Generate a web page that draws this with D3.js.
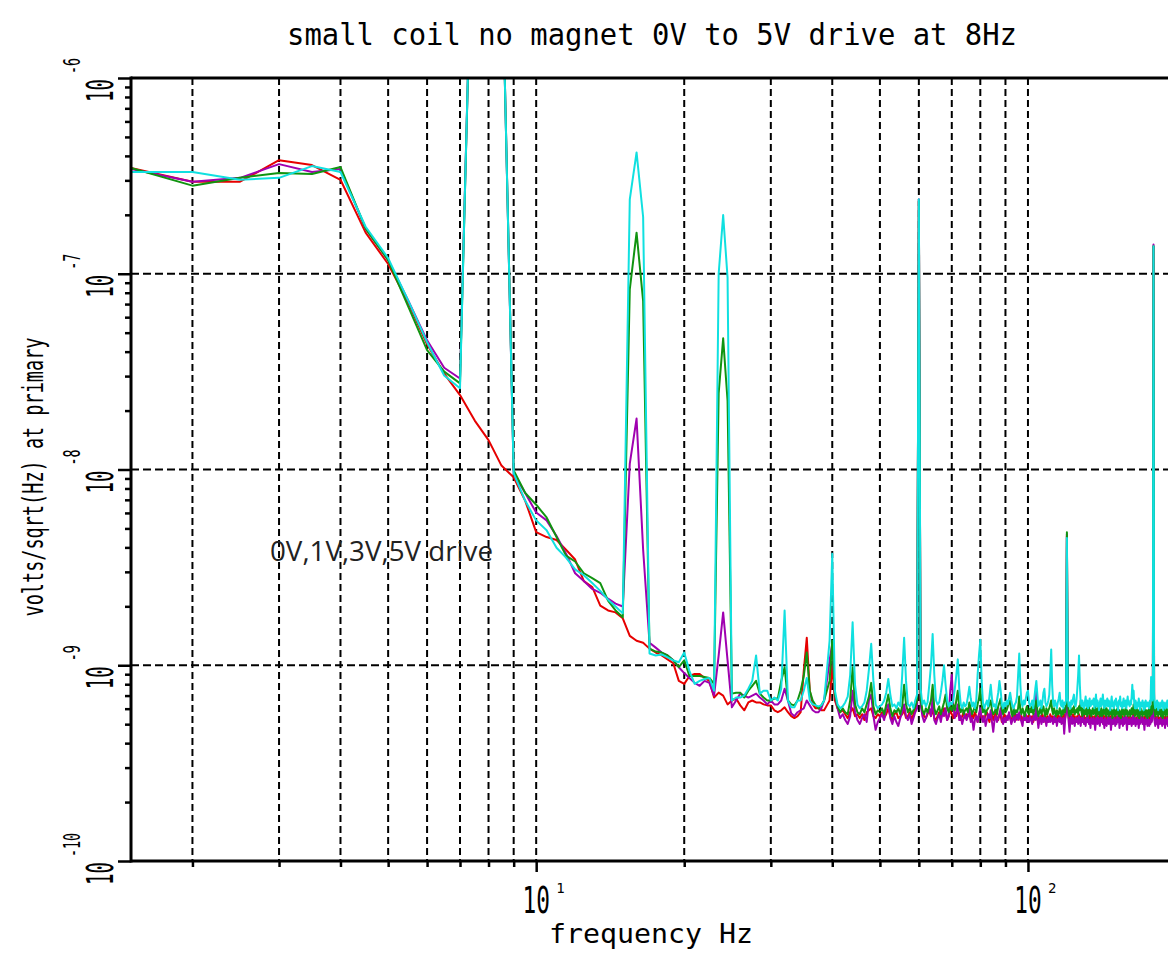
<!DOCTYPE html>
<html>
<head>
<meta charset="utf-8">
<script src="https://cdn.jsdelivr.net/npm/d3@7"></script>
<style>
  body { margin: 0; background: #fff; }
  svg { display: block; }
</style>
</head>
<body>
<div id="plot-container"></div>
<script>
const w = 1168;
const h = 956;

// frequency bins: 1.5 Hz .. 195 Hz, 0.5 Hz apart
const fStart = 1.5;
const fStep = 0.5;

// log10(volts/sqrt(Hz)), one value per bin
const drive0V = [
  -6.46, -6.53, -6.53, -6.42, -6.445, -6.52, -6.79, -6.95, -7.15, -7.36, -7.51, -7.62, -7.75, -7.85, -7.98, -8.04,
  -8.16, -8.32, -8.345, -8.36, -8.41, -8.46, -8.57, -8.60, -8.695, -8.72, -8.73, -8.76,
  -8.85, -8.875, -8.885, -8.915, -8.935, -8.95, -8.97, -8.99, -9.08, -9.095,
  -9.055, -9.045, -9.045, -9.065, -9.08, -9.165, -9.14, -9.155, -9.20, -9.18,
  -9.17, -9.205, -9.23, -9.19, -9.18, -9.19, -9.19, -9.20, -9.205, -9.205,
  -9.23, -9.24, -9.23, -9.215, -9.24, -9.26, -9.27, -9.26, -9.24, -9.03,
  -8.86, -9.13, -9.20, -9.22, -9.22, -9.23, -9.23, -9.205, -9.18, -9.00,
  -9.18, -9.22, -9.24, -9.23, -9.25, -9.27, -9.24, -9.22, -9.26, -9.25,
  -9.27, -9.25, -9.28, -9.24, -9.23, -9.22, -9.26, -9.27, -9.25, -9.26,
  -9.24, -9.27, -9.25, -9.22, -9.26, -9.28, -9.25, -9.24, -9.27, -9.26,
  -9.25, -9.23, -9.27, -9.26, -9.24, -9.28, -9.25, -9.22, -9.20, -6.63,
  -9.18, -9.24, -9.26, -9.27, -9.25, -9.23, -9.26, -9.22, -9.27, -9.28,
  -9.26, -9.24, -9.27, -9.25, -9.22, -9.24, -9.28, -9.26, -9.23, -9.25,
  -9.27, -9.24, -9.26, -9.23, -9.25, -9.28, -9.26, -9.24, -9.27, -9.25,
  -9.26, -9.24, -9.28, -9.25, -9.27, -9.24, -9.26, -9.29, -9.25, -9.24,
  -9.27, -9.26, -9.28, -9.25, -9.24, -9.27, -9.29, -9.26, -9.25, -9.28,
  -9.26, -9.24, -9.27, -9.28, -9.25, -9.26, -9.29, -9.27, -9.25, -9.26,
  -9.28, -9.26, -9.25, -9.27, -9.29, -9.26, -9.27, -9.24, -9.28, -9.26,
  -9.27, -9.25, -9.28, -9.26, -9.29, -9.27, -9.25, -9.28, -9.26, -9.27,
  -9.25, -9.28, -9.27, -9.26, -9.29, -9.27, -9.25, -9.26, -9.28, -9.27,
  -9.29, -9.26, -9.27, -9.25, -9.28, -9.26, -9.29, -9.27, -9.26, -9.28,
  -9.27, -9.25, -9.28, -9.26, -9.27, -9.29, -9.26, -9.28, -9.27, -9.25,
  -9.28, -9.26, -9.27, -9.29, -9.26, -9.28, -9.25, -9.27, -9.24, -8.34,
  -9.22, -9.27, -9.29, -9.26, -9.28, -9.27, -9.25, -9.28, -9.26, -9.29,
  -9.27, -9.26, -9.28, -9.25, -9.27, -9.29, -9.26, -9.28, -9.27, -9.25,
  -9.28, -9.27, -9.29, -9.26, -9.27, -9.28, -9.25, -9.27, -9.29, -9.26,
  -9.27, -9.28, -9.26, -9.29, -9.27, -9.25, -9.28, -9.26, -9.27, -9.29,
  -9.26, -9.28, -9.27, -9.25, -9.28, -9.26, -9.29, -9.27, -9.26, -9.28,
  -9.27, -9.29, -9.26, -9.28, -9.27, -9.25, -9.28, -9.27, -9.29, -9.26,
  -9.28, -9.26, -9.27, -9.29, -9.26, -9.28, -9.27, -9.25, -9.28, -9.27,
  -9.26, -9.28, -9.29, -9.27, -9.26, -9.28, -9.27, -9.29, -9.26, -9.27,
  -9.28, -9.27, -9.26, -9.29, -9.27, -9.28, -9.26, -9.25, -9.28, -9.27,
  -9.29, -9.27, -9.28, -9.26, -9.27, -9.29, -9.28, -9.26, -9.27, -9.28,
  -9.27, -9.26, -9.28, -9.29, -9.27, -9.26, -9.28, -9.27, -9.29, -9.26,
  -9.28, -9.27, -9.26, -9.28, -9.27, -9.25, -9.28, -9.26, -9.13, -6.86,
  -9.20, -9.27, -9.28, -9.26, -9.29, -9.27, -9.28, -9.26, -9.27, -9.29,
  -9.27, -9.28, -9.26, -9.29, -9.27, -9.28, -9.26, -9.27, -9.29, -9.28,
  -9.26, -9.28, -9.27, -9.29, -9.26, -9.28, -9.27, -9.29, -9.26, -9.28
];

const drive1V = [
  -6.465, -6.53, -6.51, -6.44, -6.48, -6.465, -6.77, -6.93, -7.14, -7.34, -7.48, -7.535, -4.65, -4.2, -5.25, -8.02,
  -8.12, -8.22, -8.26, -8.34, -8.43, -8.53, -8.57, -8.61, -8.63, -8.66, -8.685, -8.70,
  -7.97, -7.74, -8.41, -8.885, -8.91, -8.935, -8.95, -8.975, -9.01, -9.04,
  -9.065, -9.09, -9.105, -9.08, -9.09, -9.155, -8.95, -8.73, -8.975, -9.215,
  -9.18, -9.145, -9.155, -9.165, -9.155, -9.145, -9.165, -9.18, -9.20, -9.18,
  -9.20, -9.20, -9.18, -9.12, -9.18, -9.245, -9.26, -9.24, -9.23, -9.22,
  -9.18, -9.205, -9.23, -9.24, -9.24, -9.22, -9.18, -9.08, -8.975, -8.89,
  -9.15, -9.22, -9.27, -9.25, -9.28, -9.30, -9.26, -9.13, -9.24, -9.28,
  -9.30, -9.27, -9.25, -9.29, -9.18, -9.15, -9.26, -9.33, -9.29, -9.27,
  -9.25, -9.28, -9.22, -9.20, -9.27, -9.30, -9.26, -9.29, -9.31, -9.27,
  -9.24, -9.20, -9.26, -9.28, -9.25, -9.30, -9.27, -9.24, -9.22, -6.62,
  -9.20, -9.26, -9.29, -9.27, -9.24, -9.22, -9.26, -9.16, -9.28, -9.30,
  -9.27, -9.25, -9.29, -9.24, -9.26, -9.22, -9.28, -9.26, -9.13, -9.05,
  -9.20, -9.27, -9.24, -9.20, -9.28, -9.26, -9.30, -9.27, -9.25, -9.28,
  -9.26, -9.22, -9.29, -9.27, -9.33, -9.28, -9.26, -9.29, -9.25, -9.22,
  -9.27, -9.29, -9.26, -9.31, -9.28, -9.25, -9.27, -9.23, -9.29, -9.34,
  -9.28, -9.26, -9.29, -9.27, -9.25, -9.22, -9.28, -9.30, -9.27, -9.29,
  -9.26, -9.28, -9.24, -9.27, -9.30, -9.28, -9.26, -9.29, -9.27, -9.25,
  -9.28, -9.24, -9.27, -9.29, -9.31, -9.26, -9.28, -9.25, -9.29, -9.27,
  -9.29, -9.26, -9.28, -9.30, -9.27, -9.25, -9.28, -9.12, -9.27, -9.32,
  -9.28, -9.26, -9.30, -9.27, -9.29, -9.26, -9.28, -9.31, -9.27, -9.29,
  -9.26, -9.29, -9.27, -9.28, -9.30, -9.26, -9.29, -9.27, -9.31, -9.28,
  -9.27, -9.29, -9.26, -9.30, -9.28, -9.27, -9.35, -9.28, -9.24, -8.33,
  -9.22, -9.29, -9.34, -9.28, -9.26, -9.30, -9.27, -9.29, -9.31, -9.27,
  -9.29, -9.27, -9.30, -9.26, -9.28, -9.31, -9.27, -9.29, -9.26, -9.30,
  -9.28, -9.31, -9.27, -9.29, -9.26, -9.30, -9.28, -9.32, -9.27, -9.29,
  -9.30, -9.27, -9.29, -9.33, -9.28, -9.26, -9.30, -9.27, -9.29, -9.31,
  -9.27, -9.29, -9.26, -9.30, -9.28, -9.32, -9.27, -9.29, -9.31, -9.28,
  -9.26, -9.30, -9.28, -9.27, -9.33, -9.29, -9.26, -9.30, -9.28, -9.27,
  -9.31, -9.28, -9.30, -9.26, -9.29, -9.27, -9.32, -9.28, -9.30, -9.27,
  -9.29, -9.31, -9.27, -9.30, -9.28, -9.26, -9.29, -9.33, -9.27, -9.30,
  -9.28, -9.30, -9.27, -9.29, -9.31, -9.28, -9.26, -9.30, -9.29, -9.27,
  -9.31, -9.28, -9.30, -9.27, -9.29, -9.32, -9.28, -9.30, -9.26, -9.29,
  -9.28, -9.30, -9.27, -9.29, -9.33, -9.28, -9.30, -9.27, -9.29, -9.31,
  -9.27, -9.29, -9.31, -9.28, -9.30, -9.26, -9.29, -9.28, -9.20, -6.85,
  -9.22, -9.29, -9.31, -9.28, -9.30, -9.27, -9.29, -9.32, -9.28, -9.30,
  -9.29, -9.27, -9.30, -9.28, -9.31, -9.29, -9.27, -9.30, -9.28, -9.32,
  -9.28, -9.30, -9.27, -9.29, -9.31, -9.28, -9.30, -9.27, -9.29, -9.31
];

const drive3V = [
  -6.46, -6.55, -6.51, -6.485, -6.49, -6.455, -6.77, -6.93, -7.17, -7.39, -7.50, -7.56, -4.65, -4.2, -5.25, -8.005,
  -8.12, -8.18, -8.245, -8.345, -8.44, -8.47, -8.53, -8.555, -8.58, -8.67, -8.72, -8.755,
  -7.08, -6.79, -7.14, -8.915, -8.93, -8.935, -8.95, -8.975, -9.01, -8.975,
  -9.055, -9.055, -9.055, -9.06, -9.065, -9.095, -7.61, -7.33, -7.65, -9.145,
  -9.14, -9.14, -9.165, -9.13, -9.105, -9.08, -9.145, -9.165, -9.18, -9.18,
  -9.17, -9.17, -9.08, -9.01, -9.18, -9.20, -9.205, -9.18, -9.13, -9.055,
  -8.935, -9.13, -9.18, -9.205, -9.22, -9.205, -9.18, -9.13, -9.08, -8.875,
  -9.15, -9.21, -9.24, -9.22, -9.24, -9.25, -9.18, -9.01, -9.20, -9.24,
  -9.25, -9.22, -9.24, -9.20, -9.16, -9.09, -9.21, -9.25, -9.23, -9.24,
  -9.22, -9.25, -9.20, -9.15, -9.22, -9.26, -9.23, -9.24, -9.22, -9.25,
  -9.21, -9.10, -9.20, -9.24, -9.22, -9.25, -9.23, -9.21, -9.18, -6.63,
  -9.17, -9.23, -9.25, -9.22, -9.24, -9.21, -9.18, -9.10, -9.22, -9.25,
  -9.23, -9.21, -9.25, -9.22, -9.19, -9.15, -9.22, -9.24, -9.21, -9.23,
  -9.20, -9.23, -9.18, -9.13, -9.22, -9.24, -9.21, -9.25, -9.23, -9.22,
  -9.24, -9.19, -9.22, -9.25, -9.23, -9.21, -9.24, -9.20, -9.17, -9.12,
  -9.20, -9.24, -9.22, -9.25, -9.23, -9.22, -9.20, -9.18, -9.23, -9.25,
  -9.24, -9.22, -9.25, -9.21, -9.19, -9.17, -9.23, -9.25, -9.22, -9.24,
  -9.23, -9.21, -9.19, -9.18, -9.24, -9.26, -9.22, -9.25, -9.23, -9.24,
  -9.22, -9.16, -9.23, -9.25, -9.22, -9.24, -9.26, -9.23, -9.21, -9.24,
  -9.25, -9.22, -9.24, -9.21, -9.25, -9.23, -9.20, -9.18, -9.23, -9.26,
  -9.24, -9.22, -9.25, -9.23, -9.21, -9.24, -9.26, -9.22, -9.25, -9.23,
  -9.22, -9.20, -9.18, -9.23, -9.25, -9.22, -9.24, -9.26, -9.23, -9.25,
  -9.25, -9.22, -9.24, -9.26, -9.23, -9.25, -9.22, -9.24, -9.20, -8.32,
  -9.19, -9.24, -9.26, -9.23, -9.25, -9.22, -9.24, -9.21, -9.25, -9.23,
  -9.24, -9.22, -9.25, -9.21, -9.23, -9.18, -9.24, -9.26, -9.22, -9.25,
  -9.23, -9.25, -9.22, -9.26, -9.24, -9.21, -9.25, -9.23, -9.26, -9.24,
  -9.22, -9.25, -9.23, -9.21, -9.26, -9.24, -9.22, -9.25, -9.23, -9.26,
  -9.24, -9.22, -9.26, -9.23, -9.25, -9.21, -9.24, -9.26, -9.22, -9.25,
  -9.23, -9.26, -9.24, -9.22, -9.25, -9.23, -9.27, -9.24, -9.22, -9.25,
  -9.26, -9.23, -9.25, -9.22, -9.24, -9.26, -9.23, -9.25, -9.27, -9.24,
  -9.22, -9.25, -9.23, -9.26, -9.24, -9.22, -9.25, -9.23, -9.26, -9.24,
  -9.25, -9.23, -9.26, -9.24, -9.22, -9.25, -9.23, -9.20, -9.24, -9.26,
  -9.23, -9.25, -9.22, -9.26, -9.24, -9.23, -9.27, -9.24, -9.22, -9.25,
  -9.24, -9.26, -9.23, -9.25, -9.22, -9.24, -9.26, -9.23, -9.25, -9.27,
  -9.23, -9.25, -9.22, -9.26, -9.24, -9.21, -9.25, -9.23, -9.16, -6.86,
  -9.18, -9.24, -9.26, -9.23, -9.25, -9.22, -9.24, -9.26, -9.23, -9.25,
  -9.24, -9.22, -9.26, -9.23, -9.25, -9.27, -9.24, -9.22, -9.25, -9.23,
  -9.26, -9.24, -9.22, -9.25, -9.23, -9.26, -9.24, -9.27, -9.23, -9.25
];

const drive5V = [
  -6.48, -6.48, -6.52, -6.51, -6.45, -6.48, -6.76, -6.92, -7.14, -7.35, -7.52, -7.585, -4.6, -4.2, -5.25, -8.02,
  -8.16, -8.26, -8.31, -8.40, -8.45, -8.51, -8.54, -8.58, -8.62, -8.665, -8.70, -8.735,
  -6.62, -6.38, -6.71, -8.94, -8.95, -8.945, -8.96, -8.975, -8.985, -8.935,
  -9.03, -9.095, -9.08, -9.07, -9.065, -9.13, -7.00, -6.70, -7.02, -9.18,
  -9.165, -9.165, -9.155, -9.12, -9.08, -8.95, -9.145, -9.13, -9.13, -9.18,
  -9.165, -9.18, -9.12, -8.72, -9.18, -9.215, -9.215, -9.18, -9.18, -9.13,
  -9.065, -9.18, -9.20, -9.205, -9.21, -9.205, -9.18, -9.03, -8.875, -8.43,
  -9.13, -9.20, -9.22, -9.21, -9.19, -9.16, -9.05, -8.78, -9.10, -9.20,
  -9.22, -9.21, -9.19, -9.13, -9.02, -8.89, -9.08, -9.20, -9.22, -9.21,
  -9.20, -9.18, -9.14, -9.07, -9.15, -9.21, -9.20, -9.22, -9.19, -9.21,
  -9.05, -8.86, -9.08, -9.20, -9.21, -9.19, -9.22, -9.18, -9.15, -6.62,
  -9.12, -9.20, -9.18, -9.21, -9.19, -9.10, -9.00, -8.84, -9.05, -9.18,
  -9.20, -9.19, -9.14, -9.08, -9.00, -9.10, -9.18, -9.21, -9.19, -9.20,
  -9.18, -9.12, -9.05, -8.97, -9.12, -9.20, -9.22, -9.19, -9.21, -9.20,
  -9.16, -9.11, -9.17, -9.21, -9.19, -9.22, -9.18, -9.05, -8.95, -8.87,
  -9.08, -9.19, -9.22, -9.20, -9.18, -9.21, -9.16, -9.10, -9.17, -9.21,
  -9.20, -9.22, -9.18, -9.14, -9.08, -9.13, -9.20, -9.22, -9.19, -9.21,
  -9.18, -9.20, -9.17, -9.14, -9.18, -9.21, -9.22, -9.20, -9.19, -9.16,
  -9.05, -8.94, -9.10, -9.19, -9.21, -9.18, -9.20, -9.17, -9.14, -9.13,
  -9.19, -9.21, -9.20, -9.18, -9.22, -9.17, -9.12, -9.08, -9.15, -9.21,
  -9.20, -9.18, -9.22, -9.19, -9.14, -9.12, -9.19, -9.21, -9.20, -9.18,
  -9.15, -9.05, -8.92, -9.10, -9.19, -9.21, -9.18, -9.20, -9.22, -9.19,
  -9.17, -9.14, -9.20, -9.21, -9.18, -9.22, -9.19, -9.20, -9.18, -8.35,
  -9.17, -9.21, -9.19, -9.22, -9.18, -9.20, -9.17, -9.15, -9.20, -9.21,
  -9.18, -9.12, -9.05, -8.95, -9.10, -9.19, -9.21, -9.18, -9.20, -9.22,
  -9.19, -9.16, -9.21, -9.18, -9.22, -9.19, -9.17, -9.21, -9.20, -9.18,
  -9.20, -9.17, -9.22, -9.19, -9.15, -9.21, -9.18, -9.20, -9.23, -9.19,
  -9.17, -9.21, -9.19, -9.15, -9.20, -9.22, -9.18, -9.21, -9.19, -9.17,
  -9.21, -9.18, -9.20, -9.23, -9.19, -9.16, -9.21, -9.19, -9.22, -9.18,
  -9.20, -9.17, -9.21, -9.19, -9.23, -9.18, -9.20, -9.16, -9.21, -9.19,
  -9.22, -9.19, -9.17, -9.21, -9.20, -9.18, -9.22, -9.19, -9.16, -9.20,
  -9.19, -9.21, -9.18, -9.20, -9.16, -9.10, -9.17, -9.13, -9.20, -9.22,
  -9.18, -9.20, -9.22, -9.19, -9.21, -9.17, -9.20, -9.23, -9.19, -9.21,
  -9.20, -9.18, -9.21, -9.23, -9.19, -9.22, -9.18, -9.20, -9.21, -9.19,
  -9.21, -9.19, -9.22, -9.18, -9.20, -9.06, -9.15, -9.18, -9.10, -6.86,
  -9.14, -9.20, -9.22, -9.19, -9.21, -9.18, -9.20, -9.23, -9.19, -9.21,
  -9.20, -9.22, -9.19, -9.21, -9.18, -9.20, -9.23, -9.19, -9.21, -9.20,
  -9.22, -9.19, -9.21, -9.18, -9.20, -9.22, -9.19, -9.21, -9.20, -9.22
];

const seriesNames = ['0V', '1V', '3V', '5V'];
const seriesColors = ['#e60000', '#a000b0', '#109410', '#10e0e0'];
const seriesValues = [drive0V, drive1V, drive3V, drive5V];

const yDecades = [-10, -9, -8, -7, -6];
const xLabelDecades = [1, 2];

const titleText = 'small coil no magnet 0V to 5V drive at 8Hz';
const xTitle = 'frequency Hz';
const yTitle = 'volts/sqrt(Hz) at primary';
const noteText = '0V,1V,3V,5V drive';

const svg = d3.select('#plot-container')
    .append('svg')
    .attr('width', w)
    .attr('height', h)
    .style('background-color', '#FFF');

const xScale = d3.scaleLog().domain([1.5, 200]).range([131, 1176]);
const yScale = d3.scaleLog().domain([1e-10, 1e-6]).range([861, 78]);
const [plotLeft, plotRight] = xScale.range();
const [plotBottom, plotTop] = yScale.range();

svg.append('defs').append('clipPath')
    .attr('id', 'plot-clip')
    .append('rect')
    .attr('x', plotLeft)
    .attr('y', plotTop)
    .attr('width', plotRight - plotLeft)
    .attr('height', plotBottom - plotTop);

// dashed grid
const gridX = xScale.ticks().filter(d => d <= 100);
svg.append('g')
    .selectAll('line')
    .data(gridX)
    .enter()
    .append('line')
    .attr('x1', d => xScale(d))
    .attr('x2', d => xScale(d))
    .attr('y1', plotTop)
    .attr('y2', plotBottom)
    .attr('stroke', '#000')
    .attr('stroke-width', 2)
    .attr('stroke-dasharray', '7,4');

const gridY = yDecades.slice(1, -1).map(e => Math.pow(10, e));
svg.append('g')
    .selectAll('line')
    .data(gridY)
    .enter()
    .append('line')
    .attr('x1', plotLeft)
    .attr('x2', plotRight)
    .attr('y1', d => yScale(d))
    .attr('y2', d => yScale(d))
    .attr('stroke', '#000')
    .attr('stroke-width', 2)
    .attr('stroke-dasharray', '8,4');

// traces
const line = d3.line()
    .x((d, i) => xScale(fStart + i * fStep))
    .y(d => yScale(Math.pow(10, d)));

svg.append('g')
    .attr('clip-path', 'url(#plot-clip)')
    .selectAll('path')
    .data(seriesValues)
    .enter()
    .append('path')
    .attr('d', d => line(d))
    .attr('fill', 'none')
    .attr('stroke', (d, i) => seriesColors[i])
    .attr('stroke-width', 2)
    .attr('stroke-linejoin', 'round');

// axes ticks
const yMinor = [];
yDecades.slice(0, -1).forEach(e => {
    for (let k = 2; k <= 9; k++) yMinor.push(k * Math.pow(10, e));
});
const yMajor = yDecades.map(e => Math.pow(10, e));

const yAxisMinor = d3.axisLeft(yScale).tickValues(yMinor).tickSize(6).tickFormat('');
const yAxisMajor = d3.axisLeft(yScale).tickValues(yMajor).tickSize(13).tickFormat('');
[yAxisMinor, yAxisMajor].forEach(ax => {
    const g = svg.append('g')
        .attr('transform', 'translate(' + plotLeft + ',0)')
        .call(ax);
    g.select('.domain').remove();
    g.selectAll('line').attr('stroke', '#000').attr('stroke-width', 2.5);
});

const xMajor = xLabelDecades.map(e => Math.pow(10, e));
const xMinor = gridX.filter(d => !xMajor.includes(d));
const xAxisMinor = d3.axisBottom(xScale).tickValues(xMinor).tickSize(6).tickFormat('');
const xAxisMajor = d3.axisBottom(xScale).tickValues(xMajor).tickSize(11).tickFormat('');
[xAxisMinor, xAxisMajor].forEach(ax => {
    const g = svg.append('g')
        .attr('transform', 'translate(0,' + plotBottom + ')')
        .call(ax);
    g.select('.domain').remove();
    g.selectAll('line').attr('stroke', '#000').attr('stroke-width', 2.5);
});

// frame
svg.append('line').attr('x1', plotLeft).attr('x2', w).attr('y1', plotTop).attr('y2', plotTop)
    .attr('stroke', '#000').attr('stroke-width', 3);
svg.append('line').attr('x1', plotLeft).attr('x2', w).attr('y1', plotBottom).attr('y2', plotBottom)
    .attr('stroke', '#000').attr('stroke-width', 3);
svg.append('line').attr('x1', plotLeft).attr('x2', plotLeft).attr('y1', plotTop - 1.5).attr('y2', plotBottom + 1.5)
    .attr('stroke', '#000').attr('stroke-width', 3);

const mono = '"DejaVu Sans Mono", "Liberation Mono", monospace';

// y tick labels, rotated, narrow glyphs
yDecades.forEach(e => {
    const g = svg.append('g')
        .attr('transform', 'translate(0,' + yScale(Math.pow(10, e)) + ') rotate(-90)');
    g.append('text')
        .attr('transform', 'translate(-1,113) scale(0.5,1)')
        .attr('text-anchor', 'end')
        .style('font-family', mono)
        .style('font-size', '38px')
        .text('10');
    g.append('text')
        .attr('transform', 'translate(4,80) scale(0.58,1)')
        .style('font-family', mono)
        .style('font-size', '23px')
        .text(String(e));
});

// x tick labels
xLabelDecades.forEach(e => {
    const x = xScale(Math.pow(10, e));
    svg.append('text')
        .attr('transform', 'translate(' + x + ',913) scale(0.6,1)')
        .attr('text-anchor', 'middle')
        .style('font-family', mono)
        .style('font-size', '38px')
        .text('10');
    svg.append('text')
        .attr('x', x + 20)
        .attr('y', 893)
        .style('font-family', mono)
        .style('font-size', '14px')
        .text(String(e));
});

// titles
svg.append('text')
    .attr('x', 287)
    .attr('y', 45)
    .style('font-family', mono)
    .style('font-size', '31px')
    .attr('textLength', 730)
    .attr('lengthAdjust', 'spacingAndGlyphs')
    .text(titleText);

svg.append('text')
    .attr('x', 549)
    .attr('y', 943)
    .style('font-family', mono)
    .style('font-size', '27px')
    .attr('textLength', 204)
    .attr('lengthAdjust', 'spacingAndGlyphs')
    .text(xTitle);

svg.append('text')
    .attr('transform', 'translate(43,477) rotate(-90)')
    .attr('text-anchor', 'middle')
    .style('font-family', mono)
    .style('font-size', '27.5px')
    .attr('textLength', 279)
    .attr('lengthAdjust', 'spacingAndGlyphs')
    .text(yTitle);

svg.append('text')
    .attr('x', 270)
    .attr('y', 561)
    .style('font-family', '"Open Sans", "Noto Sans", sans-serif')
    .style('font-size', '28px')
    .style('fill', '#222')
    .attr('textLength', 223)
    .attr('lengthAdjust', 'spacingAndGlyphs')
    .text(noteText);
</script>
</body>
</html>
